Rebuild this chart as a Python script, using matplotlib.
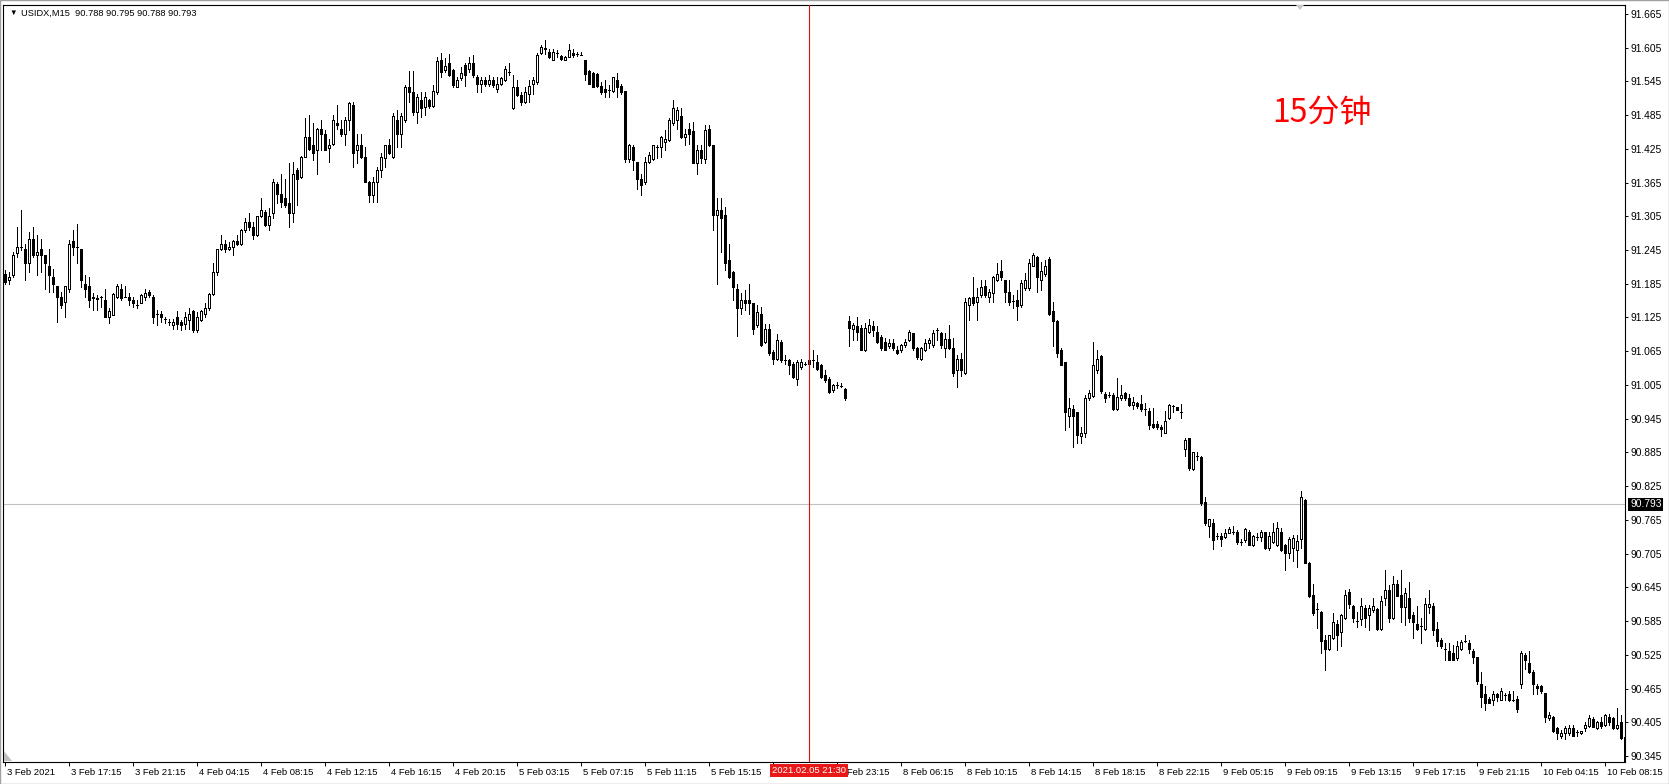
import matplotlib
matplotlib.use('Agg')
import matplotlib.pyplot as plt
import matplotlib.transforms as mtransforms
from matplotlib.patches import Rectangle, Polygon
from matplotlib.collections import LineCollection

# ---------------- data (USIDX, M15) ----------------
opens = [
 91.203, 91.191, 91.200, 91.240, 91.251, 91.246, 91.221, 91.265, 91.236, 91.246,
 91.236, 91.216, 91.197, 91.181, 91.162, 91.153, 91.176, 91.261, 91.251, 91.246,
 91.185, 91.181, 91.160, 91.159, 91.162, 91.156, 91.126, 91.130, 91.162, 91.176,
 91.162, 91.162, 91.156, 91.147, 91.151, 91.162, 91.171, 91.162, 91.131, 91.132,
 91.123, 91.117, 91.111, 91.125, 91.117, 91.114, 91.121, 91.136, 91.102, 91.121,
 91.132, 91.141, 91.166, 91.206, 91.246, 91.256, 91.246, 91.251, 91.261, 91.256,
 91.280, 91.295, 91.286, 91.271, 91.305, 91.313, 91.289, 91.311, 91.362, 91.345,
 91.337, 91.328, 91.311, 91.387, 91.375, 91.411, 91.446, 91.431, 91.423, 91.461,
 91.452, 91.427, 91.434, 91.471, 91.461, 91.452, 91.477, 91.503, 91.423, 91.431,
 91.411, 91.366, 91.342, 91.366, 91.387, 91.408, 91.431, 91.411, 91.477, 91.452,
 91.477, 91.535, 91.526, 91.491, 91.511, 91.500, 91.511, 91.501, 91.526, 91.583,
 91.565, 91.578, 91.565, 91.535, 91.550, 91.574, 91.566, 91.577, 91.553, 91.540,
 91.547, 91.541, 91.547, 91.532, 91.541, 91.547, 91.562, 91.497, 91.534, 91.520,
 91.508, 91.523, 91.541, 91.544, 91.596, 91.603, 91.597, 91.583, 91.596, 91.590,
 91.583, 91.589, 91.596, 91.593, 91.592, 91.583, 91.563, 91.559, 91.558, 91.536,
 91.532, 91.530, 91.528, 91.547, 91.536, 91.527, 91.406, 91.428, 91.402, 91.372,
 91.366, 91.402, 91.406, 91.428, 91.428, 91.437, 91.440, 91.471, 91.476, 91.483,
 91.446, 91.461, 91.456, 91.400, 91.423, 91.406, 91.461, 91.431, 91.307, 91.317,
 91.307, 91.227, 91.206, 91.176, 91.141, 91.156, 91.156, 91.150, 91.111, 91.132,
 91.082, 91.105, 91.064, 91.052, 91.082, 91.049, 91.049, 91.043, 91.016, 91.037,
 91.043, 91.042, 91.049, 91.046, 91.040, 91.022, 91.016, 90.996, 91.004, 91.003,
 90.998, 91.118, 91.104, 91.110, 91.106, 91.067, 91.100, 91.110, 91.100, 91.091,
 91.082, 91.074, 91.080, 91.067, 91.067, 91.076, 91.085, 91.097, 91.070, 91.051,
 91.067, 91.080, 91.076, 91.102, 91.097, 91.070, 91.086, 91.070, 91.032, 91.051,
 91.026, 91.147, 91.161, 91.152, 91.165, 91.181, 91.162, 91.168, 91.191, 91.208,
 91.191, 91.171, 91.155, 91.156, 91.147, 91.177, 91.177, 91.217, 91.232, 91.192,
 91.203, 91.229, 91.136, 91.118, 91.067, 91.045, 90.950, 90.962, 90.956, 90.914,
 90.919, 90.981, 90.985, 91.032, 91.057, 90.989, 90.987, 90.987, 90.962, 90.981,
 90.990, 90.981, 90.969, 90.972, 90.971, 90.962, 90.958, 90.936, 90.936, 90.931,
 90.920, 90.946, 90.967, 90.965, 90.956, 90.891, 90.910, 90.855, 90.879, 90.876,
 90.796, 90.754, 90.760, 90.737, 90.737, 90.735, 90.742, 90.744, 90.744, 90.726,
 90.729, 90.744, 90.721, 90.735, 90.735, 90.743, 90.715, 90.725, 90.721, 90.743,
 90.721, 90.706, 90.715, 90.712, 90.731, 90.801, 90.689, 90.632, 90.606, 90.602,
 90.552, 90.535, 90.555, 90.580, 90.565, 90.590, 90.636, 90.611, 90.586, 90.588,
 90.608, 90.596, 90.605, 90.606, 90.571, 90.626, 90.641, 90.590, 90.651, 90.632,
 90.610, 90.626, 90.596, 90.580, 90.576, 90.571, 90.610, 90.611, 90.571, 90.552,
 90.535, 90.531, 90.529, 90.519, 90.535, 90.550, 90.546, 90.531, 90.521, 90.474,
 90.456, 90.446, 90.445, 90.456, 90.445, 90.454, 90.456, 90.445, 90.446, 90.474,
 90.525, 90.511, 90.495, 90.470, 90.470, 90.457, 90.412, 90.414, 90.394, 90.380,
 90.386, 90.386, 90.394, 90.387, 90.386, 90.394, 90.399, 90.410, 90.394, 90.405,
 90.400, 90.414, 90.412, 90.394, 90.406, 90.378,
]
highs = [
 91.209, 91.206, 91.242, 91.286, 91.316, 91.256, 91.277, 91.286, 91.271, 91.265,
 91.236, 91.246, 91.212, 91.181, 91.171, 91.181, 91.262, 91.280, 91.292, 91.246,
 91.200, 91.197, 91.168, 91.165, 91.163, 91.176, 91.141, 91.168, 91.185, 91.185,
 91.181, 91.168, 91.162, 91.156, 91.166, 91.176, 91.174, 91.165, 91.138, 91.136,
 91.126, 91.123, 91.123, 91.136, 91.121, 91.135, 91.141, 91.138, 91.135, 91.138,
 91.151, 91.168, 91.221, 91.247, 91.271, 91.262, 91.259, 91.262, 91.271, 91.282,
 91.301, 91.311, 91.295, 91.306, 91.337, 91.316, 91.319, 91.372, 91.366, 91.381,
 91.372, 91.400, 91.402, 91.390, 91.413, 91.479, 91.485, 91.471, 91.462, 91.476,
 91.458, 91.443, 91.485, 91.503, 91.476, 91.482, 91.508, 91.508, 91.452, 91.452,
 91.428, 91.367, 91.375, 91.393, 91.417, 91.432, 91.443, 91.488, 91.494, 91.488,
 91.538, 91.564, 91.564, 91.523, 91.526, 91.526, 91.514, 91.538, 91.589, 91.596,
 91.587, 91.594, 91.566, 91.553, 91.571, 91.577, 91.589, 91.592, 91.556, 91.553,
 91.553, 91.556, 91.553, 91.553, 91.553, 91.572, 91.577, 91.556, 91.547, 91.526,
 91.535, 91.547, 91.553, 91.596, 91.609, 91.618, 91.603, 91.603, 91.600, 91.592,
 91.590, 91.612, 91.603, 91.598, 91.598, 91.583, 91.565, 91.562, 91.559, 91.544,
 91.547, 91.538, 91.553, 91.560, 91.541, 91.527, 91.434, 91.431, 91.402, 91.381,
 91.411, 91.420, 91.432, 91.431, 91.447, 91.458, 91.479, 91.511, 91.500, 91.497,
 91.461, 91.470, 91.473, 91.431, 91.431, 91.467, 91.467, 91.432, 91.337, 91.337,
 91.322, 91.256, 91.207, 91.185, 91.168, 91.173, 91.185, 91.151, 91.147, 91.144,
 91.114, 91.114, 91.067, 91.096, 91.085, 91.058, 91.052, 91.046, 91.049, 91.052,
 91.046, 91.055, 91.067, 91.058, 91.043, 91.031, 91.019, 91.007, 91.010, 91.009,
 90.999, 91.127, 91.115, 91.125, 91.112, 91.115, 91.122, 91.118, 91.110, 91.094,
 91.088, 91.086, 91.086, 91.074, 91.078, 91.086, 91.103, 91.098, 91.073, 91.073,
 91.086, 91.088, 91.103, 91.106, 91.100, 91.097, 91.112, 91.088, 91.058, 91.061,
 91.159, 91.162, 91.197, 91.177, 91.191, 91.191, 91.175, 91.199, 91.221, 91.227,
 91.192, 91.191, 91.165, 91.174, 91.191, 91.204, 91.229, 91.240, 91.235, 91.224,
 91.227, 91.233, 91.153, 91.121, 91.070, 91.046, 90.981, 90.969, 90.957, 90.931,
 90.987, 90.996, 91.082, 91.067, 91.058, 90.993, 90.993, 90.990, 91.017, 91.005,
 90.993, 90.989, 90.984, 90.975, 90.987, 90.972, 90.964, 90.964, 90.940, 90.934,
 90.958, 90.971, 90.969, 90.966, 90.971, 90.910, 90.911, 90.886, 90.886, 90.878,
 90.805, 90.767, 90.766, 90.742, 90.742, 90.748, 90.752, 90.754, 90.747, 90.731,
 90.750, 90.747, 90.738, 90.741, 90.747, 90.744, 90.744, 90.759, 90.762, 90.750,
 90.722, 90.735, 90.738, 90.738, 90.817, 90.803, 90.690, 90.651, 90.617, 90.603,
 90.560, 90.561, 90.600, 90.587, 90.597, 90.641, 90.642, 90.614, 90.602, 90.626,
 90.614, 90.614, 90.626, 90.608, 90.629, 90.676, 90.649, 90.665, 90.658, 90.676,
 90.643, 90.655, 90.602, 90.611, 90.590, 90.626, 90.641, 90.617, 90.584, 90.555,
 90.546, 90.546, 90.543, 90.549, 90.552, 90.560, 90.552, 90.535, 90.522, 90.495,
 90.470, 90.450, 90.460, 90.458, 90.466, 90.457, 90.460, 90.460, 90.451, 90.531,
 90.529, 90.531, 90.498, 90.474, 90.472, 90.458, 90.424, 90.416, 90.397, 90.391,
 90.399, 90.400, 90.400, 90.391, 90.390, 90.406, 90.418, 90.414, 90.408, 90.415,
 90.420, 90.420, 90.415, 90.430, 90.418, 90.395,
]
lows = [
 91.185, 91.185, 91.197, 91.233, 91.245, 91.191, 91.206, 91.233, 91.200, 91.206,
 91.176, 91.171, 91.171, 91.117, 91.141, 91.125, 91.171, 91.236, 91.221, 91.179,
 91.162, 91.144, 91.138, 91.138, 91.144, 91.125, 91.115, 91.129, 91.160, 91.156,
 91.161, 91.147, 91.144, 91.141, 91.150, 91.156, 91.162, 91.115, 91.111, 91.117,
 91.115, 91.111, 91.105, 91.105, 91.102, 91.105, 91.105, 91.100, 91.100, 91.119,
 91.126, 91.139, 91.165, 91.200, 91.245, 91.242, 91.245, 91.236, 91.254, 91.254,
 91.277, 91.280, 91.265, 91.270, 91.304, 91.288, 91.280, 91.301, 91.328, 91.322,
 91.322, 91.286, 91.295, 91.325, 91.373, 91.410, 91.423, 91.405, 91.381, 91.423,
 91.422, 91.402, 91.431, 91.461, 91.447, 91.431, 91.458, 91.393, 91.399, 91.408,
 91.366, 91.331, 91.331, 91.331, 91.375, 91.393, 91.416, 91.408, 91.428, 91.428,
 91.473, 91.508, 91.485, 91.470, 91.482, 91.485, 91.497, 91.500, 91.523, 91.552,
 91.562, 91.555, 91.535, 91.534, 91.547, 91.536, 91.562, 91.553, 91.526, 91.526,
 91.536, 91.536, 91.535, 91.526, 91.538, 91.546, 91.556, 91.496, 91.519, 91.503,
 91.507, 91.508, 91.523, 91.541, 91.594, 91.594, 91.586, 91.582, 91.589, 91.583,
 91.582, 91.588, 91.589, 91.590, 91.591, 91.547, 91.540, 91.534, 91.535, 91.522,
 91.517, 91.517, 91.526, 91.517, 91.523, 91.402, 91.402, 91.387, 91.354, 91.342,
 91.363, 91.399, 91.405, 91.408, 91.411, 91.423, 91.439, 91.467, 91.461, 91.445,
 91.431, 91.434, 91.399, 91.381, 91.400, 91.400, 91.430, 91.280, 91.185, 91.242,
 91.209, 91.196, 91.156, 91.092, 91.132, 91.138, 91.132, 91.096, 91.108, 91.075,
 91.079, 91.058, 91.043, 91.049, 91.046, 91.043, 91.025, 91.018, 91.004, 91.034,
 91.040, 91.040, 91.037, 91.031, 91.018, 91.010, 90.990, 90.993, 90.999, 91.002,
 90.979, 91.074, 91.085, 91.085, 91.067, 91.066, 91.097, 91.092, 91.080, 91.067,
 91.067, 91.070, 91.067, 91.060, 91.064, 91.073, 91.084, 91.067, 91.052, 91.050,
 91.066, 91.070, 91.073, 91.085, 91.070, 91.055, 91.069, 91.020, 91.002, 91.021,
 91.025, 91.121, 91.147, 91.121, 91.161, 91.161, 91.153, 91.153, 91.190, 91.191,
 91.153, 91.147, 91.141, 91.121, 91.144, 91.174, 91.174, 91.216, 91.171, 91.174,
 91.198, 91.130, 91.074, 91.055, 91.040, 90.925, 90.931, 90.895, 90.901, 90.901,
 90.913, 90.978, 90.984, 91.026, 90.990, 90.975, 90.984, 90.961, 90.961, 90.978,
 90.978, 90.968, 90.962, 90.964, 90.959, 90.952, 90.926, 90.928, 90.926, 90.914,
 90.919, 90.945, 90.956, 90.960, 90.946, 90.878, 90.854, 90.854, 90.872, 90.792,
 90.756, 90.735, 90.714, 90.731, 90.719, 90.732, 90.741, 90.740, 90.722, 90.720,
 90.726, 90.720, 90.719, 90.729, 90.727, 90.713, 90.712, 90.724, 90.718, 90.709,
 90.676, 90.697, 90.691, 90.682, 90.715, 90.688, 90.628, 90.596, 90.572, 90.529,
 90.498, 90.534, 90.554, 90.534, 90.540, 90.589, 90.608, 90.584, 90.575, 90.578,
 90.575, 90.569, 90.602, 90.569, 90.570, 90.614, 90.584, 90.588, 90.629, 90.584,
 90.578, 90.584, 90.555, 90.569, 90.546, 90.569, 90.599, 90.560, 90.540, 90.537,
 90.516, 90.515, 90.515, 90.516, 90.534, 90.547, 90.529, 90.510, 90.474, 90.433,
 90.426, 90.439, 90.436, 90.442, 90.444, 90.444, 90.442, 90.442, 90.424, 90.466,
 90.499, 90.493, 90.456, 90.456, 90.457, 90.405, 90.409, 90.388, 90.375, 90.377,
 90.375, 90.383, 90.380, 90.381, 90.385, 90.389, 90.397, 90.396, 90.393, 90.394,
 90.399, 90.400, 90.393, 90.393, 90.375, 90.334,
]
closes = [
 91.188, 91.197, 91.236, 91.251, 91.250, 91.221, 91.265, 91.236, 91.242, 91.236,
 91.221, 91.201, 91.185, 91.162, 91.147, 91.181, 91.256, 91.251, 91.251, 91.191,
 91.176, 91.156, 91.161, 91.158, 91.162, 91.126, 91.136, 91.166, 91.181, 91.159,
 91.162, 91.156, 91.151, 91.147, 91.165, 91.168, 91.165, 91.125, 91.131, 91.126,
 91.123, 91.117, 91.117, 91.114, 91.111, 91.126, 91.131, 91.102, 91.125, 91.136,
 91.141, 91.166, 91.206, 91.246, 91.256, 91.246, 91.251, 91.261, 91.256, 91.280,
 91.295, 91.286, 91.271, 91.305, 91.316, 91.289, 91.305, 91.366, 91.345, 91.331,
 91.325, 91.311, 91.381, 91.372, 91.411, 91.446, 91.425, 91.417, 91.461, 91.452,
 91.423, 91.431, 91.477, 91.467, 91.452, 91.477, 91.507, 91.417, 91.431, 91.411,
 91.366, 91.342, 91.366, 91.387, 91.411, 91.431, 91.417, 91.483, 91.452, 91.483,
 91.534, 91.526, 91.491, 91.517, 91.497, 91.517, 91.501, 91.527, 91.581, 91.562,
 91.572, 91.556, 91.538, 91.547, 91.559, 91.556, 91.577, 91.556, 91.541, 91.547,
 91.541, 91.548, 91.539, 91.541, 91.551, 91.566, 91.562, 91.535, 91.520, 91.508,
 91.526, 91.536, 91.547, 91.592, 91.606, 91.604, 91.589, 91.597, 91.596, 91.584,
 91.589, 91.600, 91.592, 91.593, 91.592, 91.558, 91.541, 91.535, 91.536, 91.526,
 91.526, 91.530, 91.552, 91.535, 91.526, 91.406, 91.431, 91.405, 91.372, 91.360,
 91.402, 91.414, 91.431, 91.428, 91.446, 91.443, 91.476, 91.497, 91.494, 91.446,
 91.452, 91.452, 91.400, 91.423, 91.408, 91.458, 91.431, 91.307, 91.317, 91.301,
 91.221, 91.197, 91.179, 91.141, 91.156, 91.151, 91.151, 91.105, 91.135, 91.076,
 91.105, 91.061, 91.052, 91.085, 91.049, 91.049, 91.040, 91.019, 91.046, 91.046,
 91.043, 91.050, 91.049, 91.034, 91.019, 91.013, 90.993, 91.004, 91.004, 91.003,
 90.981, 91.106, 91.112, 91.100, 91.067, 91.106, 91.112, 91.103, 91.082, 91.070,
 91.068, 91.080, 91.070, 91.061, 91.076, 91.082, 91.100, 91.070, 91.055, 91.070,
 91.080, 91.085, 91.098, 91.102, 91.076, 91.086, 91.070, 91.026, 91.051, 91.031,
 91.153, 91.159, 91.150, 91.161, 91.180, 91.165, 91.171, 91.197, 91.203, 91.197,
 91.171, 91.152, 91.155, 91.146, 91.186, 91.192, 91.221, 91.236, 91.197, 91.207,
 91.217, 91.131, 91.118, 91.061, 91.041, 90.956, 90.964, 90.949, 90.916, 90.920,
 90.981, 90.990, 91.041, 91.052, 90.995, 90.981, 90.987, 90.962, 90.983, 90.987,
 90.981, 90.969, 90.975, 90.967, 90.962, 90.962, 90.934, 90.931, 90.931, 90.926,
 90.940, 90.969, 90.967, 90.961, 90.956, 90.907, 90.857, 90.885, 90.879, 90.795,
 90.759, 90.766, 90.729, 90.737, 90.731, 90.742, 90.748, 90.744, 90.725, 90.726,
 90.748, 90.721, 90.737, 90.735, 90.743, 90.715, 90.737, 90.743, 90.750, 90.712,
 90.706, 90.731, 90.732, 90.727, 90.805, 90.689, 90.630, 90.600, 90.606, 90.550,
 90.535, 90.560, 90.584, 90.560, 90.596, 90.632, 90.616, 90.590, 90.586, 90.611,
 90.590, 90.608, 90.611, 90.571, 90.620, 90.641, 90.590, 90.651, 90.630, 90.610,
 90.635, 90.590, 90.584, 90.571, 90.576, 90.616, 90.616, 90.569, 90.550, 90.541,
 90.535, 90.516, 90.516, 90.541, 90.547, 90.550, 90.535, 90.521, 90.479, 90.450,
 90.440, 90.440, 90.456, 90.450, 90.461, 90.454, 90.445, 90.445, 90.428, 90.529,
 90.515, 90.495, 90.474, 90.466, 90.460, 90.414, 90.418, 90.389, 90.386, 90.386,
 90.394, 90.394, 90.381, 90.387, 90.389, 90.400, 90.412, 90.397, 90.405, 90.399,
 90.418, 90.406, 90.394, 90.400, 90.377, 90.336,
]

time_labels = ['3 Feb 2021', '3 Feb 17:15', '3 Feb 21:15', '4 Feb 04:15', '4 Feb 08:15',
               '4 Feb 12:15', '4 Feb 16:15', '4 Feb 20:15', '5 Feb 03:15', '5 Feb 07:15',
               '5 Feb 11:15', '5 Feb 15:15', '5 Feb 19:15', '5 Feb 23:15', '8 Feb 06:15',
               '8 Feb 10:15', '8 Feb 14:15', '8 Feb 18:15', '8 Feb 22:15', '9 Feb 05:15',
               '9 Feb 09:15', '9 Feb 13:15', '9 Feb 17:15', '9 Feb 21:15', '10 Feb 04:15',
               '10 Feb 08:15']
bars_per_label = 16
price_ticks = [90.345, 90.405, 90.465, 90.525, 90.585, 90.645, 90.705, 90.765, 90.825,
               90.885, 90.945, 91.005, 91.065, 91.125, 91.185, 91.245, 91.305, 91.365,
               91.425, 91.485, 91.545, 91.605, 91.665]
bid_price = 90.793
crosshair_bar = 201
crosshair_label = '2021.02.05 21:30'
header_symbol = 'USIDX,M15'
header_ohlc = '90.788 90.795 90.788 90.793'
annotation = '15分钟'

# ---------------- figure ----------------
W, H = 1669, 784
fig = plt.figure(figsize=(W / 100, H / 100), dpi=100)
fig.patch.set_facecolor('white')
L_px, R_px, T_px, B_px = 3, 1625, 5, 762
ax = fig.add_axes([L_px / W, 1 - B_px / H, (R_px - L_px) / W, (B_px - T_px) / H])
ax.set_facecolor('white')

FONT = ['Liberation Sans', 'DejaVu Sans']
FS = 6.8
FSY = 7.4

n = len(closes)
idx = list(range(n))

LW = 0.6
# wicks
segs = [[(i, lows[i]), (i, highs[i])] for i in idx]
ax.add_collection(LineCollection(segs, colors='black', linewidths=LW,
                                 antialiaseds=False, zorder=2))
# bodies
bw = 0.5
for i in idx:
    o, c = opens[i], closes[i]
    bull = c >= o
    ax.add_patch(Rectangle((i - bw / 2, min(o, c)), bw, abs(c - o),
                           facecolor='white' if bull else 'black',
                           edgecolor='black', linewidth=LW,
                           antialiased=False, zorder=3))

ax.set_xlim(-0.575, 404.93)
ax.set_ylim(90.3344, 91.6807)

# bid line
ax.axhline(bid_price, color='#c0c0c0', linewidth=0.8, zorder=1)
# crosshair vertical line
ax.axvline(crosshair_bar, color='#e01010', linewidth=0.8, zorder=6)

# right price axis
ax.yaxis.tick_right()
ax.set_yticks(price_ticks)
ax.set_yticklabels(['%.3f' % p for p in price_ticks], fontsize=FSY, family=FONT)
ax.tick_params(axis='y', direction='out', length=2.5, width=0.7, pad=1.5, colors='black')

# bottom time axis
tick_pos = [k * bars_per_label for k in range(len(time_labels))]
ax.set_xticks(tick_pos)
ax.set_xticklabels(time_labels, fontsize=FS, family=FONT)
ax.tick_params(axis='x', direction='out', length=3, width=0.7, pad=1.0, colors='black')
offset = mtransforms.ScaledTranslation(2 / 100, 0, fig.dpi_scale_trans)
for lbl in ax.get_xticklabels():
    lbl.set_horizontalalignment('left')
    lbl.set_transform(lbl.get_transform() + offset)

for sp in ax.spines.values():
    sp.set_color('black')
    sp.set_linewidth(0.8)

# bid price tag on right axis
tagtr = mtransforms.blended_transform_factory(ax.transAxes, ax.transData) + \
    mtransforms.ScaledTranslation(5 / 100, 0, fig.dpi_scale_trans)
ax.text(1.0, bid_price, '%.3f' % bid_price, transform=tagtr, ha='left', va='center',
        color='white', fontsize=FSY, family=FONT, clip_on=False, zorder=10,
        bbox=dict(boxstyle='square,pad=0.15', facecolor='black', edgecolor='none'))

# crosshair time tag
ctr = mtransforms.blended_transform_factory(ax.transData, ax.transAxes)
ax.text(crosshair_bar, -0.0114, crosshair_label, transform=ctr, ha='center', va='center',
        color='white', fontsize=FS, family=FONT, clip_on=False, zorder=10,
        bbox=dict(boxstyle='square,pad=0.22', facecolor='#e81818', edgecolor='none'))

# header
fig.text(9 / W, 1 - 13 / H, '▼', fontsize=5.5, family=FONT, ha='left', va='center',
         color='black')
fig.text(21 / W, 1 - 13 / H, header_symbol + '  ' + header_ohlc, fontsize=6.7,
         family=FONT, ha='left', va='center', color='black')

# annotation
fig.text(1272 / W, 1 - 113 / H, annotation, fontsize=23,
         family=['Noto Sans CJK SC', 'DejaVu Sans'], color='#ff0000',
         ha='left', va='center')

# chart shift marker (top) and scroll marker (bottom-left)
fig.patches.append(Polygon([(1296 / W, 1 - 5 / H), (1304 / W, 1 - 5 / H), (1300 / W, 1 - 10 / H)],
                           closed=True, transform=fig.transFigure, facecolor='#c8c8c8',
                           edgecolor='none', zorder=20))
fig.patches.append(Polygon([(4 / W, 1 - 751 / H), (4 / W, 1 - 761 / H), (12 / W, 1 - 761 / H)],
                           closed=True, transform=fig.transFigure, facecolor='#c0c0c0',
                           edgecolor='none', zorder=20))
# outer thin frame
fig.patches.append(Rectangle((0, 0), 1, 1, transform=fig.transFigure, fill=False,
                             edgecolor='#a0a0a0', linewidth=1.0, zorder=0))

fig.savefig('out.png', dpi=100, facecolor='white')
